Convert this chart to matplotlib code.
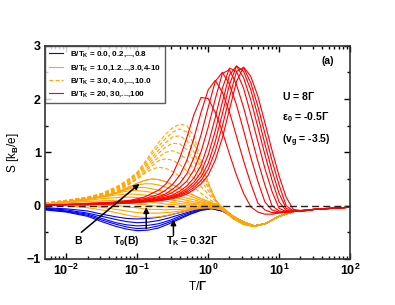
import numpy as np
import matplotlib
matplotlib.use('Agg')
import matplotlib.pyplot as plt
from matplotlib.ticker import MultipleLocator, LogLocator, NullFormatter

plt.rcParams['font.family'] = ['Liberation Sans', 'DejaVu Sans']
plt.rcParams['font.weight'] = 'bold'
plt.rcParams['mathtext.fontset'] = 'custom'
plt.rcParams['mathtext.rm'] = 'Liberation Sans'
plt.rcParams['mathtext.bf'] = 'Liberation Sans:bold'
plt.rcParams['mathtext.it'] = 'Liberation Sans:italic'
plt.rcParams['mathtext.default'] = 'bf'

# --- data (log10 of T/Gamma, S in k_B/e) ---
logt_blue = [-2.3, -2.0, -1.7, -1.5, -1.3, -1.15, -1.0, -0.85, -0.7, -0.55, -0.4, -0.25, -0.1, 0.05,
             0.2, 0.35, 0.5, 0.65, 0.8, 1.0, 1.2, 1.4, 1.7, 2.0]
tail_blue = [-0.10, -0.20, -0.31, -0.38, -0.34, -0.20, -0.11, -0.08, -0.05, -0.03]
b_blue = [0.0, 0.2, 0.4, 0.6, 0.8]
head_blue = [
    [-0.08, -0.12, -0.20, -0.30, -0.39, -0.44, -0.47, -0.46, -0.42, -0.34, -0.25, -0.16, -0.09, -0.06],
    [-0.07, -0.11, -0.18, -0.27, -0.35, -0.40, -0.43, -0.42, -0.38, -0.31, -0.23, -0.15, -0.08, -0.05],
    [-0.06, -0.10, -0.16, -0.24, -0.32, -0.36, -0.38, -0.37, -0.34, -0.28, -0.20, -0.13, -0.07, -0.05],
    [-0.05, -0.08, -0.14, -0.20, -0.26, -0.30, -0.32, -0.31, -0.28, -0.23, -0.17, -0.11, -0.06, -0.04],
    [-0.04, -0.06, -0.10, -0.16, -0.21, -0.24, -0.25, -0.24, -0.22, -0.18, -0.13, -0.08, -0.05, -0.03],
]

logt_orange = [-2.3, -2.0, -1.7, -1.5, -1.3, -1.2, -1.1, -1.0, -0.9, -0.8, -0.7, -0.6, -0.5, -0.4,
               -0.3, -0.2, -0.1, 0.0, 0.1, 0.2, 0.35, 0.5, 0.65, 0.8, 1.0, 1.2, 1.4, 1.7, 2.0]
tail_orange = [-0.20, -0.31, -0.38, -0.34, -0.20, -0.11, -0.08, -0.05, -0.03]
tail_dashed = [-0.24, -0.35, -0.39, -0.34, -0.20, -0.11, -0.08, -0.05, -0.03]
b_orange = [1.0, 1.2, 1.4, 1.6, 1.8, 2.0, 2.2, 2.4, 2.6, 2.8, 3.0]
head_orange = [
    [0.01, 0.00, -0.04, -0.08, -0.13, -0.16, -0.19, -0.21, -0.22, -0.22, -0.21, -0.19, -0.16, -0.13, -0.10, -0.07, -0.05, -0.04, -0.05, -0.08],
    [0.02, 0.02, 0.00, -0.03, -0.07, -0.09, -0.11, -0.13, -0.14, -0.14, -0.14, -0.13, -0.12, -0.10, -0.08, -0.06, -0.04, -0.04, -0.05, -0.08],
    [0.02, 0.03, 0.03, 0.02, 0.00, -0.01, -0.03, -0.04, -0.06, -0.07, -0.07, -0.08, -0.07, -0.07, -0.06, -0.05, -0.04, -0.03, -0.05, -0.08],
    [0.02, 0.04, 0.05, 0.06, 0.06, 0.05, 0.04, 0.03, 0.02, 0.00, -0.01, -0.02, -0.03, -0.03, -0.03, -0.03, -0.02, -0.02, -0.04, -0.08],
    [0.02, 0.05, 0.08, 0.09, 0.10, 0.10, 0.10, 0.09, 0.08, 0.06, 0.05, 0.03, 0.02, 0.01, 0.00, -0.01, -0.01, -0.01, -0.03, -0.07],
    [0.03, 0.06, 0.10, 0.13, 0.15, 0.16, 0.16, 0.15, 0.14, 0.12, 0.10, 0.08, 0.06, 0.04, 0.03, 0.02, 0.01, 0.00, -0.02, -0.06],
    [0.03, 0.07, 0.12, 0.16, 0.20, 0.21, 0.22, 0.21, 0.20, 0.18, 0.15, 0.13, 0.10, 0.08, 0.06, 0.04, 0.03, 0.01, -0.01, -0.05],
    [0.03, 0.07, 0.12, 0.17, 0.23, 0.26, 0.28, 0.28, 0.27, 0.25, 0.22, 0.19, 0.16, 0.13, 0.10, 0.07, 0.05, 0.03, 0.00, -0.04],
    [0.03, 0.07, 0.12, 0.17, 0.24, 0.28, 0.32, 0.34, 0.34, 0.32, 0.29, 0.26, 0.22, 0.18, 0.14, 0.11, 0.07, 0.04, 0.01, -0.04],
    [0.03, 0.07, 0.12, 0.17, 0.24, 0.29, 0.34, 0.38, 0.41, 0.41, 0.39, 0.35, 0.30, 0.25, 0.20, 0.15, 0.10, 0.06, 0.02, -0.03],
    [0.03, 0.07, 0.12, 0.17, 0.24, 0.30, 0.36, 0.42, 0.47, 0.50, 0.49, 0.45, 0.39, 0.33, 0.26, 0.19, 0.13, 0.08, 0.03, -0.03],
]
b_dashed = [3.0, 4.0, 5.0, 6.0, 7.0, 8.0, 9.0, 10.0]
head_dashed = [
    [0.03, 0.07, 0.12, 0.17, 0.24, 0.30, 0.36, 0.42, 0.47, 0.50, 0.49, 0.45, 0.39, 0.33, 0.26, 0.19, 0.13, 0.08, 0.03, -0.03],
    [0.04, 0.08, 0.13, 0.18, 0.26, 0.33, 0.41, 0.50, 0.60, 0.68, 0.72, 0.70, 0.64, 0.55, 0.45, 0.34, 0.23, 0.13, 0.05, -0.04],
    [0.04, 0.08, 0.14, 0.19, 0.27, 0.34, 0.42, 0.51, 0.62, 0.74, 0.84, 0.88, 0.85, 0.77, 0.65, 0.51, 0.36, 0.22, 0.09, -0.04],
    [0.04, 0.09, 0.14, 0.20, 0.29, 0.36, 0.44, 0.54, 0.66, 0.79, 0.91, 1.00, 1.03, 0.98, 0.86, 0.68, 0.47, 0.28, 0.11, -0.05],
    [0.05, 0.09, 0.15, 0.21, 0.30, 0.38, 0.47, 0.57, 0.70, 0.84, 0.98, 1.10, 1.17, 1.16, 1.05, 0.85, 0.58, 0.34, 0.12, -0.06],
    [0.05, 0.09, 0.15, 0.22, 0.32, 0.39, 0.48, 0.59, 0.73, 0.89, 1.04, 1.18, 1.29, 1.31, 1.22, 1.01, 0.70, 0.39, 0.13, -0.07],
    [0.05, 0.10, 0.16, 0.22, 0.33, 0.41, 0.50, 0.61, 0.77, 0.95, 1.11, 1.26, 1.38, 1.44, 1.38, 1.17, 0.79, 0.42, 0.13, -0.08],
    [0.05, 0.10, 0.16, 0.23, 0.35, 0.43, 0.52, 0.63, 0.80, 1.00, 1.18, 1.34, 1.46, 1.53, 1.50, 1.30, 0.85, 0.45, 0.12, -0.10],
]

logt_red = [-2.3, -2.0, -1.7, -1.4, -1.1, -0.9, -0.7, -0.6, -0.5, -0.4, -0.3, -0.2, -0.1, 0.0, 0.1,
            0.2, 0.3, 0.4, 0.5, 0.6, 0.7, 0.8, 0.9, 1.0, 1.1, 1.2, 1.35, 1.5, 1.75, 2.0]
b_red = [20, 30, 40, 50, 60, 70, 80, 90, 100]
s_red = [
    [0.02, 0.02, 0.04, 0.06, 0.10, 0.16, 0.29, 0.40, 0.59, 0.89, 1.28, 1.71, 2.03, 2.01, 1.75, 1.39, 0.97, 0.57, 0.23, -0.02, -0.12, -0.16, -0.16, -0.14, -0.12, -0.11, -0.09, -0.07, -0.05, -0.03],
    [0.02, 0.02, 0.04, 0.05, 0.09, 0.13, 0.21, 0.29, 0.40, 0.57, 0.85, 1.27, 1.75, 2.17, 2.35, 2.13, 1.76, 1.30, 0.84, 0.42, 0.05, -0.08, -0.13, -0.13, -0.12, -0.11, -0.09, -0.07, -0.05, -0.03],
    [0.02, 0.02, 0.03, 0.05, 0.08, 0.11, 0.17, 0.22, 0.31, 0.42, 0.60, 0.90, 1.33, 1.84, 2.33, 2.50, 2.28, 1.89, 1.41, 0.91, 0.46, 0.07, -0.08, -0.12, -0.12, -0.11, -0.09, -0.07, -0.05, -0.03],
    [0.02, 0.02, 0.03, 0.05, 0.07, 0.10, 0.15, 0.19, 0.25, 0.34, 0.46, 0.67, 1.01, 1.47, 2.00, 2.48, 2.55, 2.27, 1.84, 1.34, 0.84, 0.39, 0.00, -0.10, -0.12, -0.11, -0.09, -0.07, -0.05, -0.03],
    [0.01, 0.02, 0.03, 0.04, 0.07, 0.09, 0.13, 0.16, 0.20, 0.27, 0.37, 0.52, 0.76, 1.15, 1.65, 2.20, 2.58, 2.52, 2.20, 1.72, 1.21, 0.70, 0.27, -0.05, -0.11, -0.11, -0.09, -0.07, -0.05, -0.03],
    [0.01, 0.02, 0.02, 0.04, 0.06, 0.08, 0.12, 0.14, 0.18, 0.23, 0.32, 0.44, 0.63, 0.95, 1.40, 1.94, 2.45, 2.62, 2.40, 1.99, 1.48, 0.96, 0.48, 0.07, -0.09, -0.11, -0.09, -0.07, -0.05, -0.03],
    [0.01, 0.02, 0.02, 0.04, 0.06, 0.08, 0.11, 0.13, 0.16, 0.21, 0.28, 0.39, 0.54, 0.79, 1.20, 1.72, 2.27, 2.62, 2.52, 2.18, 1.69, 1.16, 0.66, 0.23, -0.05, -0.11, -0.10, -0.07, -0.05, -0.03],
    [0.01, 0.02, 0.02, 0.03, 0.05, 0.07, 0.10, 0.12, 0.15, 0.19, 0.25, 0.34, 0.47, 0.68, 1.02, 1.49, 2.03, 2.52, 2.59, 2.31, 1.87, 1.36, 0.85, 0.39, 0.00, -0.10, -0.10, -0.07, -0.05, -0.03],
    [0.01, 0.02, 0.02, 0.03, 0.05, 0.07, 0.09, 0.11, 0.13, 0.17, 0.22, 0.30, 0.41, 0.57, 0.85, 1.27, 1.80, 2.33, 2.60, 2.43, 2.06, 1.56, 1.04, 0.56, 0.16, -0.07, -0.10, -0.07, -0.05, -0.03],
]

legend_labels = [r'B/T$_K$ = 0.0, 0.2,...,0.8',
                 r'B/T$_K$ = 1.0,1.2...,3.0,4-10',
                 r'B/T$_K$ = 3.0, 4.0,...,10.0',
                 r'B/T$_K$ = 20, 30,...,100']

BLUE, ORANGE, RED = '#0000ff', '#ffa500', '#ff0000'
LW = 0.8

fig = plt.figure(figsize=(3.95, 3.05), dpi=100)
ax = fig.add_axes([0.114, 0.151, 0.772, 0.699])

t_blue = 10 ** np.array(logt_blue)
t_orange = 10 ** np.array(logt_orange)
t_red = 10 ** np.array(logt_red)

for i, head in enumerate(head_blue):
    ax.plot(t_blue, head + tail_blue, color=BLUE, lw=LW,
            label=legend_labels[0] if i == 0 else None)
for i, head in enumerate(head_orange):
    ax.plot(t_orange, head + tail_orange, color=ORANGE, lw=LW,
            label=legend_labels[1] if i == 0 else None)
for i, head in enumerate(head_dashed):
    ax.plot(t_orange, head + tail_dashed, color=ORANGE, lw=LW, ls=(0, (3.5, 2)),
            label=legend_labels[2] if i == 0 else None)
for i, s in enumerate(s_red):
    ax.plot(t_red, s, color=RED, lw=LW,
            label=legend_labels[3] if i == 0 else None)

ax.axhline(0, color='#222222', lw=1.0, ls=(0, (5, 3)), zorder=5)

ax.set_xscale('log')
ax.set_xlim(10 ** -2.3, 100)
ax.set_ylim(-1, 3)
ax.yaxis.set_major_locator(MultipleLocator(1))
ax.yaxis.set_minor_locator(MultipleLocator(0.5))
ax.xaxis.set_minor_locator(LogLocator(base=10, subs=np.arange(2, 10)))
ax.xaxis.set_minor_formatter(NullFormatter())
ax.tick_params(which='both', direction='in', top=True, right=True, labelsize=9, width=1)
ax.tick_params(which='major', length=4, pad=3)
ax.tick_params(which='minor', length=2)
for sp in ax.spines.values():
    sp.set_linewidth(1.2)
    sp.set_color('#333333')

ax.set_xlabel(r'T/$\mathrm{\Gamma}$', fontsize=8.5, labelpad=1)
ax.set_ylabel(r'S [k$_B$/e]', fontsize=8.5, labelpad=4)

leg = ax.legend(loc='upper left', borderaxespad=0, fontsize=5.8, frameon=True,
                fancybox=False, edgecolor='#333333', handlelength=1.7,
                handletextpad=0.9, labelspacing=0.5, borderpad=0.5)
leg.get_frame().set_linewidth(1.0)

# annotations
ax.text(0.928, 0.928, '(a)', transform=ax.transAxes, fontsize=7.5, ha='center', va='center')
ax.text(0.777, 0.764, r'U = 8$\mathrm{\Gamma}$', transform=ax.transAxes, fontsize=7.5, va='center')
ax.text(0.777, 0.665, r'$\mathrm{\varepsilon}_0$ = -0.5$\mathrm{\Gamma}$', transform=ax.transAxes,
        fontsize=7.5, va='center')
ax.text(0.777, 0.553, r'(v$_g$ = -3.5)', transform=ax.transAxes, fontsize=7.5, va='center')

arrow = dict(arrowstyle='-|>', color='k', lw=1.1, mutation_scale=8, shrinkA=0, shrinkB=0)
ax.annotate('', xy=(0.1077, 0.41), xytext=(0.0163, -0.50), arrowprops=arrow, zorder=6)
ax.text(0.01455, -0.67, 'B', fontsize=7.5, ha='center', va='center')
ax.annotate('', xy=(0.134, -0.03), xytext=(0.134, -0.43), arrowprops=arrow, zorder=6)
ax.text(0.07, -0.67, r'T$_0$(B)', fontsize=7.5, ha='center', va='center')
ax.annotate('', xy=(0.324, -0.26), xytext=(0.324, -0.56), arrowprops=arrow, zorder=6)
ax.text(0.255, -0.67, r'T$_K$ = 0.32$\mathrm{\Gamma}$', fontsize=7.5, ha='left', va='center')

fig.savefig('out.png', dpi=100)
